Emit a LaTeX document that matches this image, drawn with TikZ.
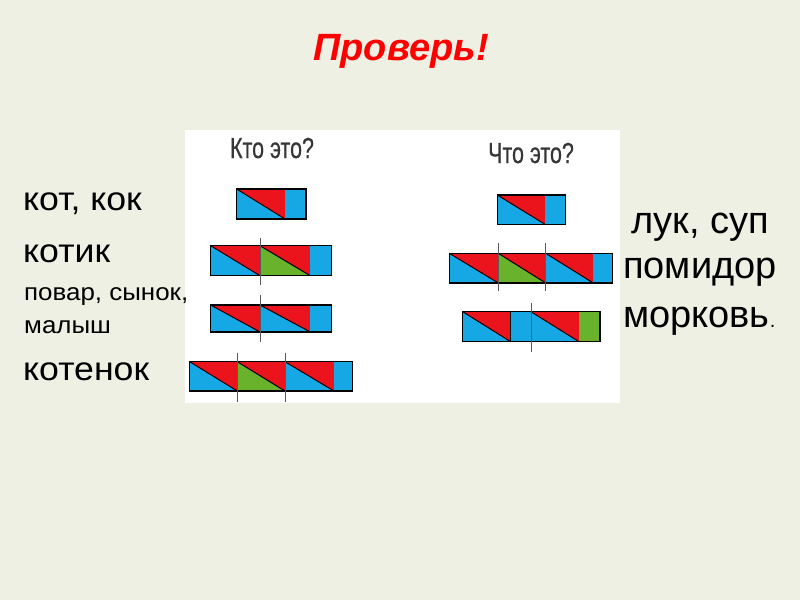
\documentclass[tikz,border=0pt]{standalone}
\usepackage{fontspec}
\usepackage{graphicx}
\setmainfont{Liberation Sans}
\newfontfamily\headsans[FakeBold=0.6]{Liberation Sans}

\definecolor{slidebg}{RGB}{237,240,226}
\definecolor{slogred}{RGB}{236,20,28}
\definecolor{slogblue}{RGB}{22,168,228}
\definecolor{sloggreen}{RGB}{104,178,44}
\definecolor{headgray}{RGB}{55,55,55}

\tikzset{
  rowframe/.style={draw=black, line width=1.2pt},
  cutline/.style={draw=black!65, line width=0.7pt},
  bigword/.style={anchor=base west, inner sep=0pt, font=\fontsize{33}{33}\selectfont},
  smallword/.style={anchor=base west, inner sep=0pt, font=\fontsize{24}{24}\selectfont},
  rightword/.style={anchor=base west, inner sep=0pt, font=\fontsize{38}{38}\selectfont},
  question/.style={anchor=base, inner sep=0pt, text=headgray, font=\headsans\fontsize{29}{29}\selectfont},
}
\newcommand{\widetext}[1]{\scalebox{1.08}[1]{#1}}
\newcommand{\condtext}[1]{\scalebox{0.74}[1]{#1}}

% syllable: x from, x to, y top, y bottom, upper colour, lower colour
\newcommand{\slogbox}[6]{%
  \fill[#6] (#1,#3) -- (#1,#4) -- (#2,#4) -- cycle;
  \fill[#5] (#1,#3) -- (#2,#3) -- (#2,#4) -- cycle;
  \draw[black, line width=1pt] (#1,#3) -- (#2,#4);
  \draw[black, line width=1pt] (#2,#3) -- (#2,#4);
}
% single sound: x from, x to, y top, y bottom, colour
\newcommand{\soundbox}[5]{%
  \fill[#5] (#1,#3) rectangle (#2,#4);
}

\begin{document}
\begin{tikzpicture}[x=1pt, y=-1pt]
\useasboundingbox (0,0) rectangle (800,600);
\fill[slidebg] (0,0) rectangle (800,600);

% title
\node[font=\bfseries\itshape\fontsize{38}{38}\selectfont, text=red, anchor=base] (title) at (401,60) {Проверь!};

% white panel with the schemes
\fill[white] (185,130) rectangle (620,403);
\node[question] (kto) at (272,158) {\condtext{Кто это?}};
\node[question] (chto) at (531,163) {\condtext{Что это?}};

% Кто это? -- row 1
\slogbox{236.7}{285}{189}{219}{slogred}{slogblue}
\soundbox{285}{306}{189}{219}{slogblue}
\draw[rowframe] (236.7,189) rectangle (306,219);

% row 2
\slogbox{210.7}{260}{245.7}{275.7}{slogred}{slogblue}
\slogbox{260}{310.3}{245.7}{275.7}{slogred}{sloggreen}
\soundbox{310.3}{331.7}{245.7}{275.7}{slogblue}
\draw[rowframe] (210.7,245.7) rectangle (331.7,275.7);
\draw[cutline] (260,238) -- (260,285);

% row 3
\slogbox{210.7}{260}{305}{332}{slogred}{slogblue}
\slogbox{260}{310.3}{305}{332}{slogred}{slogblue}
\soundbox{310.3}{331.7}{305}{332}{slogblue}
\draw[rowframe] (210.7,305) rectangle (331.7,332);
\draw[cutline] (260,295) -- (260,342);

% row 4
\slogbox{189.7}{237.3}{361.7}{391}{slogred}{slogblue}
\slogbox{237.3}{285}{361.7}{391}{slogred}{sloggreen}
\slogbox{285}{334}{361.7}{391}{slogred}{slogblue}
\soundbox{334}{352.7}{361.7}{391}{slogblue}
\draw[rowframe] (189.7,361.7) rectangle (352.7,391);
\draw[cutline] (237.3,353) -- (237.3,402);
\draw[cutline] (285,353) -- (285,402);

% Что это? -- row 1
\slogbox{497.3}{545}{195}{224.3}{slogred}{slogblue}
\soundbox{545}{565.7}{195}{224.3}{slogblue}
\draw[rowframe] (497.3,195) rectangle (565.7,224.3);

% row 2
\slogbox{449.3}{498.3}{253.3}{283}{slogred}{slogblue}
\slogbox{498.3}{545.7}{253.3}{283}{slogred}{sloggreen}
\slogbox{545.7}{593.3}{253.3}{283}{slogred}{slogblue}
\soundbox{593.3}{612.7}{253.3}{283}{slogblue}
\draw[rowframe] (449.3,253.3) rectangle (612.7,283);
\draw[cutline] (498.3,243) -- (498.3,290.7);
\draw[cutline] (545.7,243) -- (545.7,290.7);

% row 3
\slogbox{462.7}{510.7}{311.7}{341.7}{slogred}{slogblue}
\soundbox{510.7}{531}{311.7}{341.7}{slogblue}
\draw[black, line width=1pt] (531,311.7) -- (531,341.7);
\slogbox{531}{579}{311.7}{341.7}{slogred}{slogblue}
\soundbox{579}{600}{311.7}{341.7}{sloggreen}
\draw[rowframe] (462.7,311.7) rectangle (600,341.7);
\draw[cutline] (531,303) -- (531,351.7);

% words on the left
\node[bigword] (kot) at (23,210) {\widetext{кот, кок}};
\node[bigword] (kotik) at (23,262) {\widetext{котик}};
\node[smallword] (povar) at (24,300) {\widetext{повар, сынок,}};
\node[smallword] (malysh) at (24,333) {\widetext{малыш}};
\node[bigword] (kotenok) at (23,380) {\widetext{котенок}};

% words on the right
\node[rightword] (luk) at (631,233) {лук, суп};
\node[rightword] (pomidor) at (623,278) {помидор};
\node[rightword] (morkov) at (623,327) {морковь{\fontsize{20}{20}\selectfont.}};
\end{tikzpicture}
\end{document}
